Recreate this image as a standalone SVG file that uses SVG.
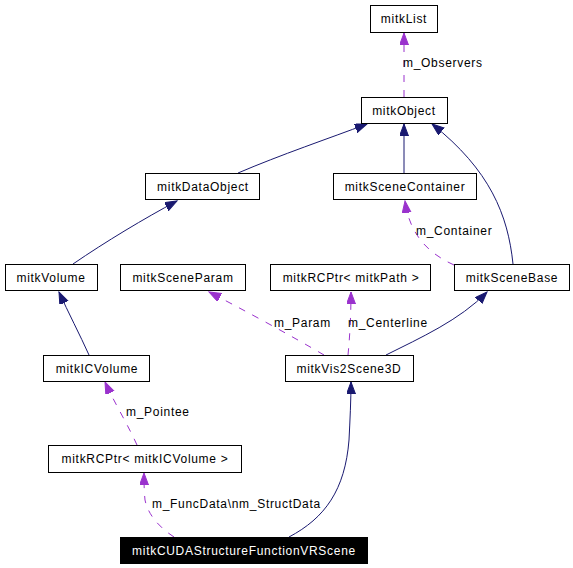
<svg xmlns="http://www.w3.org/2000/svg" width="573" height="568" viewBox="0 0 573 568">
<defs>
<style>
.box{fill:#fff;stroke:#000;stroke-width:1}
.t{font-family:"Liberation Sans",Arial,sans-serif;font-size:12px;letter-spacing:0.7px;fill:#000}
.c{text-anchor:middle}
.inh{fill:none;stroke:#191970;stroke-width:1}
.use{fill:none;stroke:#9a32cd;stroke-width:1;stroke-dasharray:7,8}
</style>
<marker id="an" markerUnits="userSpaceOnUse" markerWidth="14" markerHeight="10" refX="12" refY="4.5" orient="auto"><path d="M0,0 L12,4.5 L0,9 z" fill="#191970" stroke="#191970"/></marker>
<marker id="ap" markerUnits="userSpaceOnUse" markerWidth="14" markerHeight="10" refX="12" refY="4.5" orient="auto"><path d="M0,0 L12,4.5 L0,9 z" fill="#9a32cd" stroke="#9a32cd"/></marker>
</defs>
<rect width="573" height="568" fill="#fff"/>
<g id="connectors">
<path class="use" d="M404,97 L404,33" marker-end="url(#ap)"/>
<text class="t" x="403" y="67">m_Observers</text>
<path class="inh" d="M238,173 C280,155 330,138 367,124" marker-end="url(#an)"/>
<path class="inh" d="M404,173 L404,124" marker-end="url(#an)"/>
<path class="inh" d="M513,264 C508,215 490,170 432,124" marker-end="url(#an)"/>
<path class="inh" d="M73,264 C105,242 145,218 177,201" marker-end="url(#an)"/>
<path class="inh" d="M89,355 C80,335 68,312 59,292" marker-end="url(#an)"/>
<path class="use" d="M137,445 C128,425 114,402 105,382" marker-end="url(#ap)"/>
<text class="t" x="126" y="416">m_Pointee</text>
<path class="use" d="M174,537 C160,528 148,515 145,500 C144,490 144,482 144,473" marker-end="url(#ap)"/>
<text class="t" x="152" y="508">m_FuncData\nm_StructData</text>
<path class="inh" d="M289,537 C325,518 345,490 349,440 C350,420 351,400 351,382" marker-end="url(#an)"/>
<path class="use" d="M324,355 C290,335 240,308 209,292" marker-end="url(#ap)"/>
<text class="t" x="274" y="327">m_Param</text>
<path class="use" d="M348,355 C350,335 351,312 351,292" marker-end="url(#ap)"/>
<text class="t" x="348" y="327">m_Centerline</text>
<path class="inh" d="M386,355 C420,338 460,320 487,292" marker-end="url(#an)"/>
<path class="use" d="M454,265 C432,255 410,238 405,201" marker-end="url(#ap)"/>
<text class="t" x="416" y="235">m_Container</text>
</g>
<g id="mitkList"><rect class="box" x="370.5" y="5.5" width="67" height="27"/><text class="t c" x="404" y="23">mitkList</text></g>
<g id="mitkObject"><rect class="box" x="361.5" y="97.5" width="86" height="26"/><text class="t c" x="404" y="115">mitkObject</text></g>
<g id="mitkDataObject"><rect class="box" x="145.5" y="173.5" width="114" height="26"/><text class="t c" x="203" y="191">mitkDataObject</text></g>
<g id="mitkSceneContainer"><rect class="box" x="333.5" y="173.5" width="143" height="26"/><text class="t c" x="405" y="191">mitkSceneContainer</text></g>
<g id="mitkVolume"><rect class="box" x="5.5" y="264.5" width="92" height="26"/><text class="t c" x="51" y="282">mitkVolume</text></g>
<g id="mitkSceneParam"><rect class="box" x="120.5" y="264.5" width="125" height="26"/><text class="t c" x="183" y="282">mitkSceneParam</text></g>
<g id="mitkRCPtrPath"><rect class="box" x="270.5" y="264.5" width="160" height="26"/><text class="t c" x="351" y="282">mitkRCPtr&lt; mitkPath &gt;</text></g>
<g id="mitkSceneBase"><rect class="box" x="454.5" y="264.5" width="115" height="26"/><text class="t c" x="512" y="282">mitkSceneBase</text></g>
<g id="mitkICVolume"><rect class="box" x="43.5" y="355.5" width="106" height="26"/><text class="t c" x="97" y="373">mitkICVolume</text></g>
<g id="mitkVis2Scene3D"><rect class="box" x="285.5" y="355.5" width="128" height="26"/><text class="t c" x="349" y="373">mitkVis2Scene3D</text></g>
<g id="mitkRCPtrICVolume"><rect class="box" x="48.5" y="445.5" width="193" height="27"/><text class="t c" x="145" y="463">mitkRCPtr&lt; mitkICVolume &gt;</text></g>
<g id="mitkCUDAStructureFunctionVRScene"><rect x="120" y="537" width="248" height="27" fill="#000"/><text class="t c" x="244" y="555" style="fill:#fff">mitkCUDAStructureFunctionVRScene</text></g>
</svg>
